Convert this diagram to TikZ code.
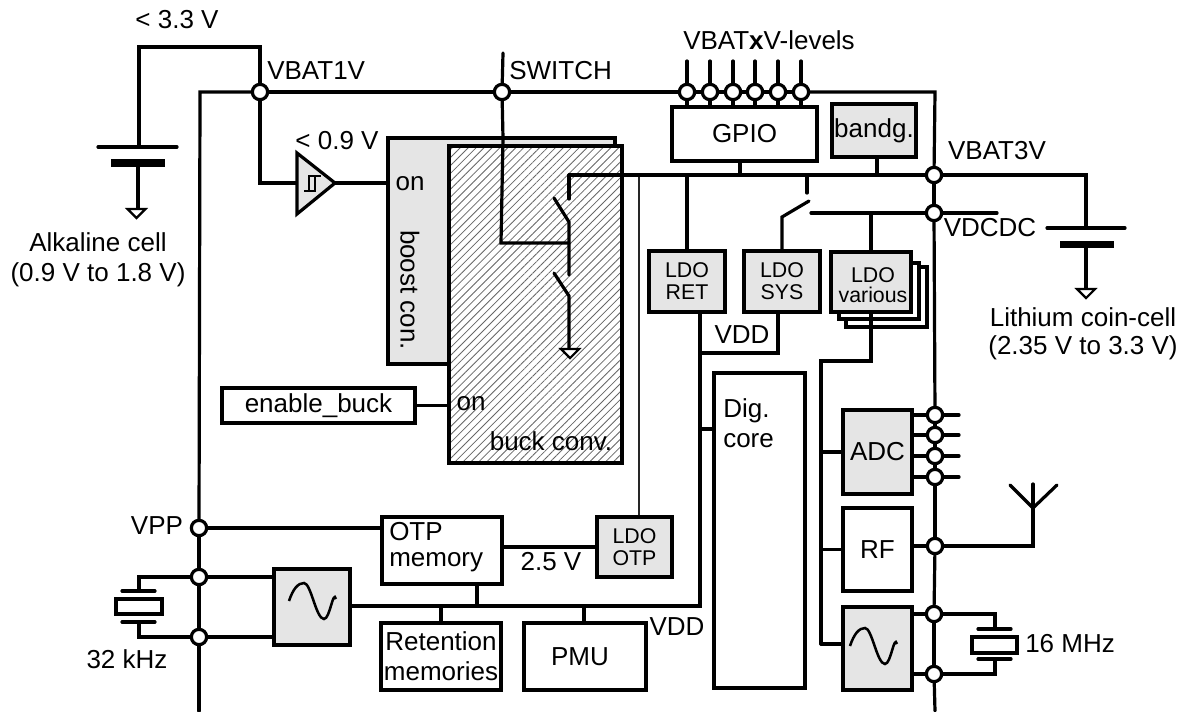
\documentclass[tikz,border=0pt]{standalone}
\usepackage{fontspec}
\setmainfont{Liberation Sans}
\usepackage{tikz}
\usetikzlibrary{patterns.meta}

\definecolor{blockgray}{gray}{0.9}
\tikzset{
  wire/.style={line width=2.4pt, line cap=round, line join=miter},
  thinwire/.style={line width=1.5pt, draw=black!85},
  plate/.style={line width=5.6pt},
  pin/.style={circle, draw, fill=white, line width=2.4pt, minimum size=11.5pt, inner sep=0pt},
  boxsize/.style 2 args={minimum width=#1*0.75pt, minimum height=#2*0.75pt},
  block/.style={draw, fill=white, line width=2.4pt, inner sep=0pt, align=center, font=\fontsize{19.5}{22.5}\selectfont},
  grayblock/.style={block, fill=blockgray},
  ldo/.style={grayblock, font=\fontsize{16}{16.5}\selectfont},
  hatched/.style={draw, line width=2.4pt, inner sep=0pt, preaction={fill=white},
    pattern={Lines[angle=45,distance=4.2pt,line width=0.6pt]}, pattern color=black!60},
  txt/.style={inner sep=0pt, align=center, font=\fontsize{19.5}{22.5}\selectfont},
}
\newcommand{\gndtip}[1]{\draw[line width=1.6pt, fill=white] (#1) ++(-9,0) -- ++(18,0) -- ++(-9,9) -- cycle;}
\newcommand{\sinewave}[1]{\draw[line width=1.9pt] (#1) .. controls +(4,-12) and +(-6,0) .. ++(15,-18)
  .. controls +(7,0) and +(-8,0) .. ++(20,36) .. controls +(6,0) and +(-3,-10) .. ++(12,-20);}

\begin{document}
\begin{tikzpicture}[x=0.75pt, y=-0.75pt]
  \useasboundingbox (0,0) rectangle (1182,711);

  % converter blocks
  \node[grayblock, boxsize={227}{226}] (boost) at (501.5,251) {};
  \node[hatched, boxsize={173}{317}] (buck) at (535.5,304.5) {};

  % blocks
  \node[block, boxsize={145}{54}] (gpio) at (744.5,134) {\raisebox{-2pt}{GPIO}};
  \node[grayblock, boxsize={84}{53}] (bandg) at (874,130.5) {bandg.};
  \node[ldo, boxsize={76}{61}] (ldoret) at (687,281.5) {LDO\\RET};
  \node[ldo, boxsize={76}{61}] (ldosys) at (782,281.5) {LDO\\SYS};
  \node[block, boxsize={81}{60}] (ldovar3) at (886.5,297) {};
  \node[block, boxsize={80}{56}] (ldovar2) at (879,291) {};
  \node[ldo, boxsize={80}{60}] (ldovar) at (871,282) {};
  \node[block, boxsize={91}{315}] (dig) at (759.5,530.5) {};
  \node[grayblock, boxsize={69}{84}] (adc) at (877.5,452) {ADC};
  \node[block, boxsize={69}{83}] (rf) at (877.5,549.5) {RF};
  \node[grayblock, boxsize={69}{83}] (osc16) at (877.5,648.5) {};
  \node[block, boxsize={193}{35}] (enbuck) at (318.5,405.5) {enable\_buck};
  \node[block, boxsize={120}{67}] (otp) at (442,550.5) {};
  \node[ldo, boxsize={75}{60}] (ldootp) at (634.5,547) {LDO\\OTP};
  \node[grayblock, boxsize={76}{76}] (osc32) at (312,607) {};
  \node[block, boxsize={120}{67}] (reten) at (441,656.5) {Retention\\memories};
  \node[block, boxsize={122}{67}] (pmu) at (585,656.5) {PMU\hspace{7.5pt}};

  % pads
  \node[pin] (vbat1) at (260,92) {};
  \node[pin] (swpin) at (502,92) {};
  \node[pin] (gp1) at (687,92) {};
  \node[pin] (gp2) at (710,92) {};
  \node[pin] (gp3) at (733,92) {};
  \node[pin] (gp4) at (755,92) {};
  \node[pin] (gp5) at (778,92) {};
  \node[pin] (gp6) at (801,92) {};
  \node[pin] (vbat3) at (934,175) {};
  \node[pin] (vdcdc) at (934,213) {};
  \node[pin] (adc1) at (935,415) {};
  \node[pin] (adc2) at (935,435) {};
  \node[pin] (adc3) at (935,456) {};
  \node[pin] (adc4) at (935,477) {};
  \node[pin] (rfpin) at (935,546) {};
  \node[pin] (xt16a) at (934,614) {};
  \node[pin] (xt16b) at (934,674) {};
  \node[pin] (vpp) at (199,528) {};
  \node[pin] (xt32a) at (199,577) {};
  \node[pin] (xt32b) at (199,637) {};

  % corners and free ends
  \coordinate (lcorner) at (200,92);
  \coordinate (rcorner) at (935,92);
  \coordinate (lbot) at (199,711);
  \coordinate (rbot) at (935,711);
  \coordinate (swtop) at (503,53);
  \coordinate (swbend) at (501,243);
  \coordinate (mid) at (569,243);
  \coordinate (hstart) at (569,175);
  \coordinate (hend) at (1086,175);
  \coordinate (vdcdcfree) at (997,213);
  \coordinate (swdc) at (811,213);
  \coordinate (cellin) at (139,147);
  \coordinate (trigin) at (297,183);
  \coordinate (trigout) at (335,183);
  \coordinate (vddbot) at (700,606);
  \coordinate (oscline) at (350,606);
  \coordinate (feedtop) at (821,361);
  \coordinate (feedbot) at (821,644);

  % supply rails
  \draw[wire] (lbot) -- (xt32b);
  \draw[wire] (xt32b) -- (xt32a);
  \draw[wire] (xt32a) -- (vpp);
  \draw[wire] (vpp) -- (lcorner) -- (vbat1);
  \draw[wire] (vbat1) -- (swpin);
  \draw[wire] (swpin) -- (gp1);
  \draw[wire] (gp1) -- (gp2);
  \draw[wire] (gp2) -- (gp3);
  \draw[wire] (gp3) -- (gp4);
  \draw[wire] (gp4) -- (gp5);
  \draw[wire] (gp5) -- (gp6);
  \draw[wire] (gp6) -- (rcorner) -- (vbat3);
  \draw[wire] (vbat3) -- (vdcdc);
  \draw[wire] (vdcdc) -- (adc1);
  \draw[wire] (adc1) -- (adc2);
  \draw[wire] (adc2) -- (adc3);
  \draw[wire] (adc3) -- (adc4);
  \draw[wire] (adc4) -- (rfpin);
  \draw[wire] (rfpin) -- (xt16a);
  \draw[wire] (xt16a) -- (xt16b);
  \draw[wire] (xt16b) -- (rbot);

  % alkaline cell
  \draw[wire] (vbat1) -- (260,47) -- (139,47) -- (cellin);
  \draw[wire] (98,147) -- (177,147);
  \draw[plate] (111,163) -- (165,163);
  \draw[wire] (138,163) -- (138,209);
  \gndtip{136.5,209}

  % comparator
  \draw[wire] (vbat1) |- (trigin);
  \draw[wire, fill=blockgray] (297,153) -- (trigout) -- (297,214) -- cycle;
  \draw[wire] (trigout) -- (trigout-|boost.west);
  \draw[line width=1.5pt] (304,191) -- (315,191) -- (315,176) (309,191) -- (309,176) -- (321,176);

  % switches in the buck block
  \draw[wire] (swtop) -- (swpin);
  \draw[wire] (swpin) -- (503,138) -- (swbend) -- (mid);
  \draw[wire] (hstart) -- (569,199);
  \draw[wire] (554,198) -- (569,222) -- (569,275);
  \draw[wire] (554,273) -- (569,296) -- (569,350);
  \gndtip{570,349}
  \draw[wire] (hstart) -- (vbat3);
  \draw[wire] (vbat3) -- (hend) -- (1086,228);
  \draw[wire] (enbuck.east) -- (enbuck.east-|buck.west);

  % lithium cell
  \draw[wire] (1047,228) -- (1125,228);
  \draw[plate] (1060,244.5) -- (1114,244.5);
  \draw[wire] (1086,245) -- (1086,289);
  \gndtip{1086,289}

  % gpio pins
  \foreach \p in {gp1,gp2,gp3,gp4,gp5,gp6} {
    \draw[wire] (\p) -- (\p|-0,61);
    \draw[wire] (\p) -- (\p|-gpio.north);
  }
  \draw[wire] (gpio.south-|740,0) -- (740,175);
  \draw[wire] (bandg.south-|877,0) -- (877,175);

  % regulators
  \draw[wire] (ldoret.north) -- (687,175);
  \draw[wire] (807,175) -- (807,193);
  \draw[wire] (ldosys.north) -- (782,217) -- (809,201);
  \draw[wire] (swdc) -- (vdcdc);
  \draw[wire] (vdcdc) -- (vdcdcfree);
  \draw[wire] (ldovar.north) -- (871,213);
  \draw[thinwire] (ldootp.north-|639,0) -- (639,177);
  \draw[wire] (ldovar.south) -- (871,361) -- (feedtop) -- (feedbot);
  \draw[wire] (feedtop|-adc.west) -- (adc.west);
  \draw[wire] (rf.west) -- (rf.west-|feedtop);
  \draw[wire] (feedbot) -- (feedbot-|osc16.west);
  \draw[wire] (ldoret.south-|700,0) -- (vddbot) -- (oscline);
  \draw[wire] (ldosys.south-|778,0) -- (778,353) -- (700,353);
  \draw[wire] (700,429) -- (dig.west|-0,429);

  % lower blocks
  \draw[wire] (vpp) -- (vpp-|otp.west);
  \draw[wire] (otp.east|-0,547) -- (ldootp.west|-0,547);
  \draw[wire] (otp.south-|477,0) -- (477,606);
  \draw[wire] (reten.north) -- (441,606);
  \draw[wire] (pmu.north-|584,0) -- (584,606);

  % 32 kHz crystal
  \draw[wire] (xt32a) -- (xt32a-|osc32.west);
  \draw[wire] (xt32b) -- (xt32b-|osc32.west);
  \draw[wire] (xt32a) -- (139,577) -- (139,591);
  \draw[wire] (xt32b) -- (139,637) -- (139,622);
  \draw[wire] (122,591) -- (155,591);
  \draw[wire] (122,622) -- (155,622);
  \draw[wire] (116,599) rectangle (162,614);
  \sinewave{289,601}

  % 16 MHz crystal and pins
  \draw[wire] (osc16.east|-xt16a) -- (xt16a);
  \draw[wire] (osc16.east|-xt16b) -- (xt16b);
  \draw[wire] (xt16a) -- (995,614) -- (995,629);
  \draw[wire] (xt16b) -- (995,674) -- (995,659);
  \draw[wire] (978,629) -- (1011,629);
  \draw[wire] (978,659) -- (1011,659);
  \draw[wire] (972,637) rectangle (1017,653);
  \sinewave{850,646}
  \draw[wire] (adc.east|-adc1) -- (adc1);
  \draw[wire] (adc1) -- (959,415);
  \draw[wire] (adc.east|-adc2) -- (adc2);
  \draw[wire] (adc2) -- (959,435);
  \draw[wire] (adc.east|-adc3) -- (adc3);
  \draw[wire] (adc3) -- (959,456);
  \draw[wire] (adc.east|-adc4) -- (adc4);
  \draw[wire] (adc4) -- (959,477);

  % antenna
  \draw[wire] (rf.east|-rfpin) -- (rfpin);
  \draw[wire] (rfpin) -- (1033,546) -- (1033,484);
  \draw[wire] (1010,485) -- (1033,508) -- (1057,485);

  % labels
  \node[txt] (lt33) at (177,20) {< 3.3 V};
  \node[txt] (lt09) at (337,141) {< 0.9 V};
  \node[txt, anchor=west] (lvbat1) at (267,71) {VBAT1V};
  \node[txt, anchor=west] (lswitch) at (509,71) {SWITCH};
  \node[txt] (llevels) at (769,40) {VBAT\textbf{x}V-levels};
  \node[txt] (lvbat3) at (997,151) {VBAT3V};
  \node[txt] (lvdcdc) at (990,228) {VDCDC};
  \node[txt] (lalk) at (98,260) {Alkaline cell\\(0.9 V to 1.8 V)};
  \node[txt] (llith) at (1083,334) {Lithium coin-cell\\[-1.5pt](2.35 V to 3.3 V)};
  \node[txt, font=\fontsize{16}{15}\selectfont] (lvar) at (873,285) {LDO\\various};
  \node[txt] (lon1) at (410,184) {on};
  \node[txt, rotate=-90] (lboost) at (410,290) {boost con.};
  \node[txt] (lon2) at (471,404) {on};
  \node[txt] (lbuck) at (551,441) {buck conv.};
  \node[txt] (lvdd1) at (742,335) {VDD};
  \node[txt] (lvdd2) at (677,627) {VDD};
  \node[txt, anchor=west] (ldig) at (723,411) {Dig.};
  \node[txt, anchor=west] (lcore) at (723,441) {core};
  \node[txt, anchor=west] (lotp) at (389,532) {OTP};
  \node[txt, anchor=west] (lmem) at (389,562) {memory};
  \node[txt] (l25) at (551,562) {2.5 V};
  \node[txt] (lvpp) at (157,526) {VPP};
  \node[txt] (l32) at (127,659) {32 kHz};
  \node[txt, anchor=west] (l16) at (1025,644) {16 MHz};
\end{tikzpicture}
\end{document}
